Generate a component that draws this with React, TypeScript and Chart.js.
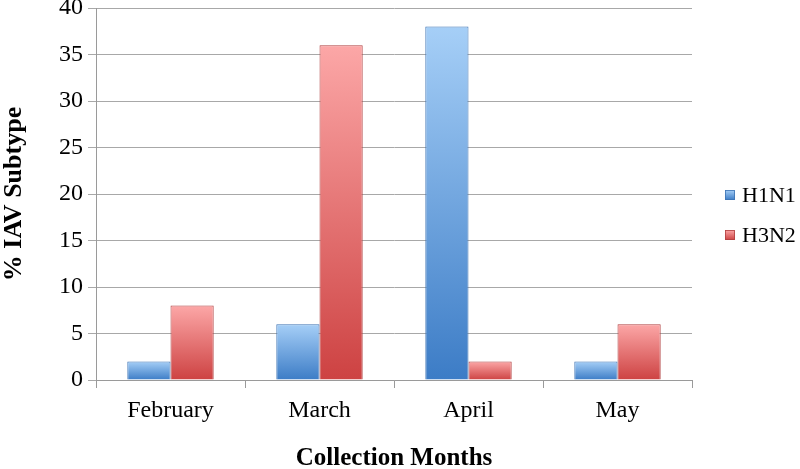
import React, { useEffect, useRef } from "react";
import { Chart, registerables } from "chart.js";

Chart.register(...registerables);

const categories = ["February", "March", "April", "May"];
const h1n1 = [2, 6, 38, 2];
const h3n2 = [8, 36, 2, 6];
const seriesNames = ["H1N1", "H3N2"];
const yTicks = [0, 5, 10, 15, 20, 25, 30, 35, 40];

const SERIF = '"Liberation Serif", "Times New Roman", Times, serif';

const palettes = [
  { top: "#a6cff7", mid: "#6fa8e6", bottom: "#3c7cc6", border: "#3f74b4" },
  { top: "#fca7a7", mid: "#ec7171", bottom: "#cd4242", border: "#b04040" },
];

function barGradient(ctx: any, pal: any) {
  const chart = ctx.chart;
  const area = chart.chartArea;
  if (!area || ctx.type !== "data") return pal.bottom;
  const y = chart.scales.y;
  const v = ctx.raw as number;
  const yTop = y.getPixelForValue(v);
  const yBot = y.getPixelForValue(0);
  const g = chart.ctx.createLinearGradient(0, yTop, 0, yBot);
  g.addColorStop(0, pal.top);
  g.addColorStop(1, pal.bottom);
  return g;
}

const sideLegend = {
  id: "sideLegend",
  afterDraw(chart: any) {
    const { ctx, chartArea } = chart;
    const x = chartArea.right + 33;
    const mid = (chartArea.top + chartArea.bottom) / 2 + 21;
    const gap = 40;
    const n = chart.data.datasets.length;
    ctx.save();
    ctx.font = `22px ${SERIF}`;
    ctx.textBaseline = "middle";
    ctx.textAlign = "left";
    chart.data.datasets.forEach((ds: any, i: number) => {
      const cy = mid + (i - (n - 1) / 2) * gap;
      const pal = palettes[i];
      const g = ctx.createLinearGradient(0, cy - 5, 0, cy + 5);
      g.addColorStop(0, pal.top);
      g.addColorStop(1, pal.bottom);
      ctx.fillStyle = g;
      ctx.fillRect(x, cy - 5, 10, 10);
      ctx.strokeStyle = pal.border;
      ctx.lineWidth = 0.8;
      ctx.strokeRect(x + 0.5, cy - 4.5, 9, 9);
      ctx.fillStyle = "#000";
      ctx.fillText(ds.label, x + 17, cy + 1);
    });
    ctx.restore();
  },
};

export default function App() {
  const ref = useRef<HTMLCanvasElement>(null);
  useEffect(() => {
    document.body.style.margin = "0";
    const canvas = ref.current!;
    const chart = new Chart(canvas, {
      type: "bar",
      data: {
        labels: categories,
        datasets: [
          {
            label: seriesNames[0],
            data: h1n1,
            backgroundColor: (c: any) => barGradient(c, palettes[0]),
            borderColor: palettes[0].border,
            borderWidth: 1,
          },
          {
            label: seriesNames[1],
            data: h3n2,
            backgroundColor: (c: any) => barGradient(c, palettes[1]),
            borderColor: palettes[1].border,
            borderWidth: 1,
          },
        ],
      },
      options: {
        animation: false,
        responsive: false,
        maintainAspectRatio: false,
        layout: { padding: { top: 8, right: 108, bottom: 0, left: 0 } },
        datasets: { bar: { categoryPercentage: 0.58, barPercentage: 1 } },
        plugins: {
          legend: { display: false },
          tooltip: { enabled: false },
        },
        scales: {
          x: {
            grid: {
              offset: true,
              drawOnChartArea: false,
              drawTicks: true,
              tickLength: 8,
              color: "#9a9a9a",
            },
            border: { color: "#9a9a9a", width: 1 },
            ticks: {
              color: "#000",
              font: { family: SERIF, size: 24 },
              padding: 8,
            },
            title: {
              display: true,
              text: "Collection Months",
              color: "#000",
              font: { family: SERIF, size: 25, weight: "bold", lineHeight: 0.8 },
              padding: { top: 0, bottom: 0 },
            },
            afterFit: (s: any) => {
              s.height = 89;
            },
          },
          y: {
            min: 0,
            max: 40,
            afterBuildTicks: (s: any) => {
              s.ticks = yTicks.map((v) => ({ value: v }));
            },
            grid: {
              color: "#a8a8a8",
              tickLength: 8,
              drawTicks: true,
            },
            border: { color: "#9a9a9a", width: 1 },
            ticks: {
              color: "#000",
              font: { family: SERIF, size: 24 },
              padding: 5,
            },
            title: {
              display: true,
              text: "% IAV Subtype",
              color: "#000",
              font: { family: SERIF, size: 26, weight: "bold", lineHeight: 0.8 },
              padding: { top: 4, bottom: 0 },
            },
            afterFit: (s: any) => {
              s.width = 96;
              s.paddingTop = 0;
              s.paddingBottom = 0;
            },
          },
        },
      },
      plugins: [sideLegend],
    });
    return () => chart.destroy();
  }, []);
  return <canvas ref={ref} width={800} height={469} style={{ display: "block" }} />;
}
